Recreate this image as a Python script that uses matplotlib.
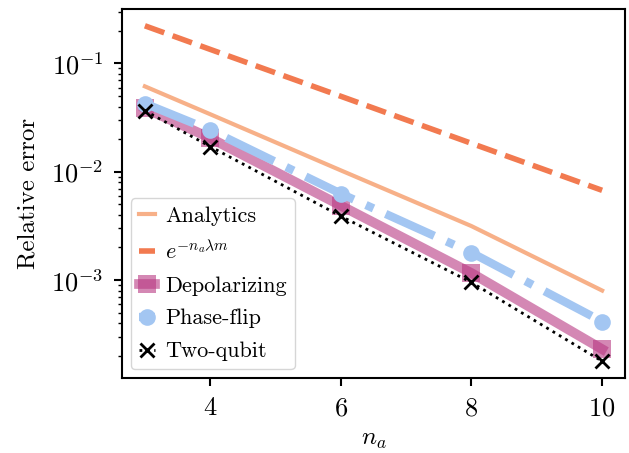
import matplotlib
matplotlib.use("Agg")
import matplotlib.pyplot as plt

plt.rcParams.update({
    "font.family": "serif",
    "font.serif": ["cmr10", "DejaVu Serif"],
    "mathtext.fontset": "cm",
    "axes.formatter.use_mathtext": True,
    "axes.unicode_minus": False,
    "font.size": 16.5,
})

# Number of ancilla qubits
n_a = [3, 4, 6, 8, 10]

# Relative error curves
analytics = [0.0615, 0.034, 0.0103, 0.00315, 0.0008]
exp_bound = [0.223, 0.135, 0.0498, 0.0183, 0.00674]
depolarizing = [0.0386, 0.0205, 0.00487, 0.00116, 0.00023]
phase_flip = [0.0427, 0.0243, 0.00628, 0.00179, 0.000414]
two_qubit = [0.0366, 0.0171, 0.00389, 0.00095, 0.000178]

fig = plt.figure(figsize=(6.29, 4.53), dpi=100)
ax = fig.add_axes([0.194, 0.1656, 0.7996, 0.8145])

ax.plot(n_a, analytics, color="#f7b088", lw=3, label="Analytics")
ax.plot(n_a, exp_bound, color="#f27a50", lw=4, ls="--",
        label=r"$e^{-n_a\lambda m}$")
ax.plot(n_a, depolarizing, color="#b83983", alpha=0.6, lw=7, marker="s",
        ms=13, mew=0, label="Depolarizing")
ax.plot(n_a, phase_flip, color="#a3c6f2", lw=6, ls="-.",
        marker="o", ms=12, mew=0, label="Phase-flip")
ax.plot(n_a, two_qubit, color="black", lw=2, ls=":",
        marker="x", ms=10, mew=2, label="Two-qubit")

ax.set_yscale("log")
ax.set_xticks([4, 6, 8, 10])
ax.set_xlabel(r"$n_a$", fontsize=18, labelpad=6)
ax.set_ylabel("Relative error", fontsize=18, labelpad=8)
for s in ax.spines.values():
    s.set_linewidth(1.5)
ax.tick_params(which="major", length=5.5, width=1.5, labelsize=19, pad=8)
ax.tick_params(which="minor", length=3.2, width=1)

ax.legend(loc="lower left", handlelength=0.75, handletextpad=0.45,
          borderpad=0.35, labelspacing=0.6, borderaxespad=0.4, fontsize=16)

fig.savefig("out.png", dpi=100)
